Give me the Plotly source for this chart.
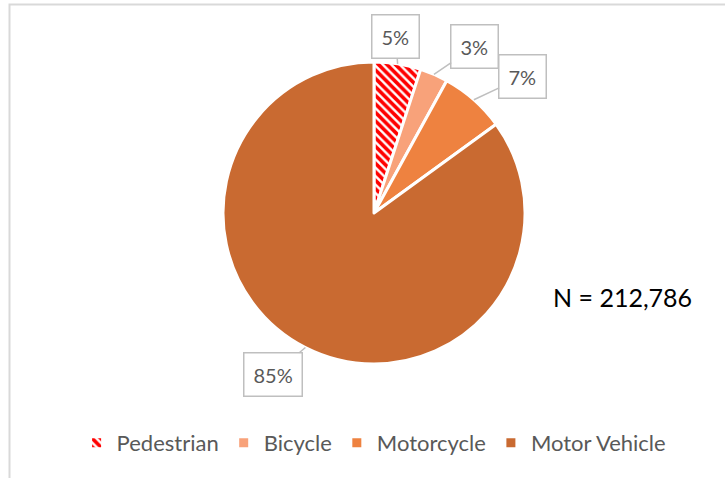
import math
import plotly.graph_objects as go

categories = ["Pedestrian", "Bicycle", "Motorcycle", "Motor Vehicle"]
shares = [5, 3, 7, 85]
labels_text = ["5%", "3%", "7%", "85%"]
colors = ["#FFFFFF", "#F8A27A", "#EE8240", "#C96A31"]
total_n = "N = 212,786"

W, H = 725, 478
cx, cy, r = 374, 213, 151  # pie centre / radius in pixels

fig = go.Figure(go.Pie(
    labels=categories,
    values=shares,
    sort=False,
    direction="clockwise",
    rotation=0,
    textinfo="none",
    hoverinfo="label+percent",
    marker=dict(
        colors=colors,
        line=dict(color="white", width=3),
        pattern=dict(
            shape=["\\", "", "", ""],
            fgcolor=["#FF0000", "#F8A27A", "#EE8240", "#C96A31"],
            bgcolor=["#FFFFFF", "#F8A27A", "#EE8240", "#C96A31"],
            size=6,
            solidity=0.6,
        ),
    ),
    domain=dict(x=[(cx - r) / W, (cx + r) / W], y=[1 - (cy + r) / H, 1 - (cy - r) / H]),
))

# callout labels anchored at slice edge midpoints
offsets = [(-2, -27), (41, -28), (49, -23), (-32, 27)]
cum = 0
tot = sum(shares)
for v, t, (ax, ay) in zip(shares, labels_text, offsets):
    mid = (cum + v / 2) / tot * 2 * math.pi
    cum += v
    px = cx + r * math.sin(mid)
    py = cy - r * math.cos(mid)
    fig.add_annotation(
        x=px / W, y=1 - py / H, xref="paper", yref="paper",
        text=t, showarrow=True, arrowhead=0, arrowwidth=1.5, arrowcolor="#BFBFBF",
        ax=ax, ay=ay, bordercolor="#BFBFBF", borderwidth=1.5, borderpad=9,
        bgcolor="white", font=dict(family="Lato", size=20, color="#595959"),
    )

fig.add_annotation(
    x=551 / W, y=1 - 297 / H, xref="paper", yref="paper", xanchor="left", yanchor="middle",
    text=total_n, showarrow=False, font=dict(family="Lato", size=25, color="#000000"),
)

# chart frame
fig.add_shape(type="rect", xref="paper", yref="paper", x0=9.5 / W, y0=-0.05, x1=1.05, y1=1 - 4.5 / H,
              line=dict(color="#D9D9D9", width=2))

fig.update_layout(
    width=W, height=H,
    margin=dict(l=0, r=0, t=0, b=0, autoexpand=False),
    paper_bgcolor="white",
    plot_bgcolor="white",
    showlegend=True,
    legend=dict(
        orientation="h", x=0.516, xanchor="center", y=1 - 443 / H, yanchor="middle",
        font=dict(family="Lato", size=22, color="#595959"),
        itemwidth=30,
    ),
)

fig.write_html("out.html", config={"displayModeBar": False},
               post_script="document.body.style.margin='0';")
